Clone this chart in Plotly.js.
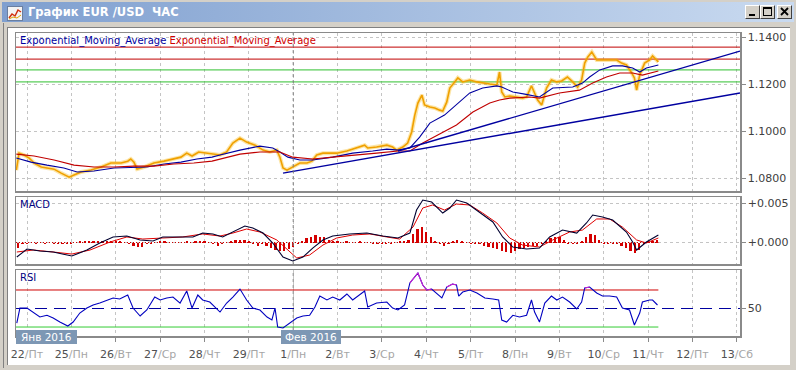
<!DOCTYPE html>
<html><head><meta charset="utf-8">
<script src="https://cdn.plot.ly/plotly-3.0.1.min.js"></script>
<style>
html,body{margin:0;padding:0;}
body{width:796px;height:370px;overflow:hidden;background:#d4d0c8;position:relative;font-family:"DejaVu Sans",sans-serif;}
#title{position:absolute;left:2px;top:2px;width:792px;height:20px;background:linear-gradient(to right,#7f9fcf,#c9daf0);}
#ttext{position:absolute;left:26px;top:3px;color:#fff;font-weight:bold;font-size:11.5px;line-height:14px;white-space:pre;font-family:"DejaVu Sans",sans-serif;}
#icon{position:absolute;left:5px;top:4px;width:16px;height:15px;}
#white{position:absolute;left:7px;top:27px;width:783px;height:338px;background:#fff;border-top:1px solid #808080;border-left:1px solid #808080;box-sizing:border-box;}
#edge{position:absolute;left:3px;top:23px;width:1px;height:345px;background:#808080;}
#chart{position:absolute;left:0;top:0;width:796px;height:370px;}
.btn{position:absolute;top:5px;width:15px;height:14px;background:#d4d0c8;box-sizing:border-box;border:1px solid;border-color:#fff #404040 #404040 #fff;}
.btn svg{position:absolute;left:0;top:0;}
</style></head>
<body>
<div id="title">
  <svg id="icon" width="16" height="15"><rect x="0.5" y="0.5" width="15" height="14" fill="#f4f4f4" stroke="#6a7fa0"/><polyline points="2,12 5,8 8,10 11,4 14,6" fill="none" stroke="#d03010" stroke-width="1.5"/><polyline points="2,13 6,11 10,12 14,9" fill="none" stroke="#e0a000" stroke-width="1"/></svg>
  <div id="ttext">График EUR /USD  ЧАС</div>
</div>
<div class="btn" style="left:745px"><svg width="13" height="12"><rect x="3" y="8" width="6" height="2" fill="#000"/></svg></div>
<div class="btn" style="left:760px"><svg width="13" height="12"><rect x="2.5" y="1.5" width="8" height="8" fill="none" stroke="#000"/><rect x="2" y="1" width="9" height="2" fill="#000"/></svg></div>
<div class="btn" style="left:777px"><svg width="13" height="12"><path d="M3,2 L10,9 M10,2 L3,9" stroke="#000" stroke-width="1.8"/></svg></div>
<div id="edge"></div>
<div id="white"></div>
<div id="chart"></div>
<script>
// ---------- data (x = trading-day index, 0 = 22 Jan 2016) ----------
const dayIdx  = [0,1,2,3,4,5,6,7,8,9,10,11,12,13,14,15,16];
const dayNum  = ['22','25','26','27','28','29','1','2','3','4','5','8','9','10','11','12','13'];
const dayName = ['Пт','Пн','Вт','Ср','Чт','Пт','Пн','Вт','Ср','Чт','Пт','Пн','Вт','Ср','Чт','Пт','Сб'];
const monthLabels = ['Янв 2016','Фев 2016'];
const monthStart = 6;

const priceX = [-0.24,-0.18,-0.07,0.05,0.16,0.32,0.45,0.61,0.77,0.86,0.95,1.06,1.22,1.44,1.67,1.89,2.12,2.27,2.34,2.41,2.48,2.64,2.86,3.09,3.31,3.47,3.60,3.72,3.87,4.03,4.17,4.35,4.50,4.64,4.80,4.95,5.14,5.32,5.47,5.63,5.70,5.77,5.86,5.99,6.15,6.31,6.42,6.53,6.67,6.82,6.98,7.21,7.43,7.61,7.68,7.88,8.11,8.24,8.33,8.47,8.58,8.67,8.74,8.81,8.90,8.96,9.08,9.19,9.30,9.37,9.46,9.53,9.64,9.71,9.82,9.98,10.14,10.27,10.43,10.59,10.65,10.70,10.77,10.88,11.04,11.17,11.26,11.37,11.44,11.51,11.60,11.71,11.82,11.94,12.05,12.18,12.30,12.41,12.50,12.57,12.64,12.73,12.84,12.97,13.13,13.29,13.40,13.51,13.63,13.69,13.74,13.81,13.92,14.03,14.10,14.19,14.23];
const price  = [1.0834,1.0906,1.0898,1.0885,1.0864,1.0847,1.0843,1.0838,1.0821,1.0813,1.0804,1.0813,1.0826,1.0834,1.0847,1.0864,1.0864,1.0872,1.0881,1.0868,1.0838,1.0847,1.0864,1.0872,1.0881,1.0889,1.0906,1.0894,1.0911,1.0906,1.0902,1.0898,1.0911,1.0949,1.0970,1.0953,1.0940,1.0919,1.0911,1.0919,1.0889,1.0843,1.0834,1.0847,1.0864,1.0864,1.0872,1.0898,1.0906,1.0906,1.0906,1.0915,1.0928,1.0940,1.0928,1.0932,1.0940,1.0932,1.0919,1.0932,1.0949,1.0996,1.1068,1.1119,1.1153,1.1111,1.1102,1.1098,1.1089,1.1085,1.1123,1.1183,1.1209,1.1226,1.1209,1.1217,1.1209,1.1204,1.1200,1.1196,1.1251,1.1166,1.1145,1.1149,1.1145,1.1140,1.1145,1.1192,1.1162,1.1132,1.1111,1.1183,1.1217,1.1209,1.1213,1.1230,1.1209,1.1187,1.1217,1.1289,1.1315,1.1336,1.1302,1.1302,1.1302,1.1302,1.1289,1.1281,1.1247,1.1226,1.1174,1.1238,1.1289,1.1302,1.1319,1.1302,1.1294];

const emaFastX = [-0.24,0.09,0.45,0.83,1.13,1.51,1.96,2.41,2.70,3.09,3.47,3.83,4.17,4.35,4.80,5.25,5.54,5.70,5.88,6.15,6.44,6.89,7.34,7.79,8.11,8.36,8.63,8.85,9.08,9.41,9.68,9.98,10.27,10.59,10.70,10.95,11.22,11.55,11.85,12.30,12.52,12.68,12.91,13.20,13.42,13.65,13.81,13.96,14.23];
const emaFast  = [1.0885,1.0868,1.0855,1.0843,1.0826,1.0830,1.0843,1.0847,1.0847,1.0860,1.0868,1.0881,1.0889,1.0898,1.0919,1.0936,1.0928,1.0911,1.0889,1.0877,1.0877,1.0889,1.0906,1.0915,1.0923,1.0919,1.0928,1.0974,1.1034,1.1068,1.1111,1.1162,1.1183,1.1192,1.1187,1.1166,1.1157,1.1145,1.1183,1.1187,1.1204,1.1230,1.1260,1.1277,1.1277,1.1268,1.1251,1.1268,1.1281];

const emaSlowX = [-0.24,0.16,0.61,1.06,1.51,1.96,2.41,2.86,3.31,3.76,4.17,4.46,4.80,5.25,5.70,5.99,6.44,6.89,7.34,7.88,8.36,8.63,8.92,9.37,9.68,10.05,10.43,10.65,10.88,11.33,11.55,12.00,12.45,12.75,13.06,13.36,13.65,13.87,14.23];
const emaSlow  = [1.0902,1.0894,1.0877,1.0855,1.0847,1.0847,1.0851,1.0851,1.0860,1.0864,1.0872,1.0885,1.0902,1.0911,1.0911,1.0889,1.0881,1.0889,1.0898,1.0906,1.0915,1.0915,1.0949,1.0996,1.1026,1.1081,1.1119,1.1132,1.1140,1.1145,1.1140,1.1162,1.1174,1.1204,1.1230,1.1247,1.1247,1.1238,1.1255];

const trend1X = [5.77,16.07], trend1 = [1.0821,1.1162];
const trend2X = [8.36,16.07], trend2 = [1.0915,1.1340];
const redLevels   = [1.1357,1.1306];
const greenLevels = [1.1260,1.1209];

const macdX = [-0.23,0.00,0.29,0.59,1.01,1.35,1.64,1.94,2.25,2.55,2.84,3.06,3.45,3.74,3.96,4.19,4.41,4.64,4.91,5.09,5.32,5.54,5.77,5.99,6.22,6.44,6.67,6.89,7.27,7.66,8.02,8.36,8.63,8.78,8.92,9.12,9.37,9.53,9.68,9.91,10.20,10.50,10.72,10.95,11.26,11.55,11.78,12.07,12.39,12.61,12.75,12.97,13.20,13.51,13.65,13.74,13.96,14.23];
const macd  = [-0.00184,-0.00082,-0.00108,-0.00120,-0.00171,-0.00095,-0.00006,0.00070,0.00082,0.00032,0.00019,0.00070,0.00070,0.00070,0.00120,0.00108,0.00070,0.00133,0.00209,0.00184,0.00120,-0.00006,-0.00184,-0.00234,-0.00184,-0.00070,0.00032,0.00082,0.00108,0.00120,0.00082,0.00057,0.00120,0.00411,0.00538,0.00513,0.00373,0.00437,0.00538,0.00500,0.00386,0.00260,0.00070,-0.00057,-0.00082,-0.00070,0.00070,0.00158,0.00120,0.00247,0.00348,0.00323,0.00285,0.00133,0.00006,-0.00095,0.00006,0.00095];
const signalX = [-0.23,0.14,0.59,1.01,1.42,1.87,2.25,2.61,3.06,3.51,3.96,4.35,4.64,4.95,5.25,5.63,6.08,6.37,6.67,6.98,7.34,7.73,8.11,8.40,8.70,8.92,9.14,9.41,9.68,9.98,10.27,10.59,10.88,11.17,11.55,11.85,12.23,12.52,12.84,13.13,13.42,13.74,13.96,14.23];
const signal  = [-0.00120,-0.00095,-0.00120,-0.00146,-0.00095,0.00006,0.00070,0.00044,0.00057,0.00070,0.00108,0.00082,0.00120,0.00171,0.00133,0.00032,-0.00196,-0.00158,-0.00032,0.00057,0.00095,0.00108,0.00070,0.00044,0.00196,0.00437,0.00475,0.00411,0.00487,0.00475,0.00373,0.00247,0.00057,-0.00032,-0.00057,0.00032,0.00133,0.00158,0.00298,0.00298,0.00196,0.00032,-0.00006,0.00057];
const histStart = -0.2, histStep = 0.1;
const hist = [-0.00064,-0.00013,-0.00013,0,-0.00013,0,-0.00013,0,-0.00013,-0.00013,
 -0.00013,-0.00013,-0.00013,0,0.00013,0.00013,0.00013,0.00025,0.00025,0.00025,
 0.00025,0.00013,0.00013,0.00013,0,-0.00013,-0.00038,-0.00051,-0.00051,-0.00025,
 -0.00013,0,0.00013,0.00013,0,0,0,0,0.00013,0,
 0.00013,0.00013,0.00013,0,-0.00025,-0.00038,-0.00025,0,0.00013,0.00038,
 0.00038,0.00038,0.00013,-0.00025,-0.00038,-0.00025,-0.00038,-0.00064,-0.00089,-0.00102,
 -0.00102,-0.00076,-0.00051,-0.00013,0.00025,0.00051,0.00076,0.00089,0.00076,0.00064,
 0.00038,0.00013,0.00013,0,0.00013,0,0,0.00013,0,0,
 -0.00013,-0.00013,-0.00013,-0.00013,-0.00013,0,0.00013,0.00013,0.00038,0.00102,
 0.00165,0.00191,0.00127,0.00064,0.00013,-0.00025,-0.00038,-0.00013,0.00025,0.00038,
 0.00013,0,-0.00013,-0.00013,-0.00025,-0.00038,-0.00051,-0.00064,-0.00076,-0.00102,
 -0.00114,-0.00127,-0.00102,-0.00076,-0.00064,-0.00051,-0.00038,-0.00038,-0.00013,0.00025,
 0.00051,0.00064,0.00064,0.00038,-0.00013,-0.00025,-0.00013,0.00025,0.00064,0.00102,
 0.00089,0.00038,-0.00013,-0.00013,-0.00013,-0.00025,-0.00038,-0.00064,-0.00102,-0.00127,
 -0.00089,-0.00025,0.00013,0.00025,0.00038];

const rsiX = [-0.23,-0.16,0.00,0.14,0.29,0.45,0.59,0.74,0.92,1.04,1.19,1.35,1.49,1.64,1.80,1.94,2.09,2.27,2.39,2.55,2.70,2.88,3.00,3.15,3.29,3.45,3.60,3.72,3.85,3.96,4.12,4.35,4.50,4.64,4.80,4.95,5.09,5.25,5.41,5.52,5.59,5.65,5.77,5.92,6.08,6.22,6.37,6.49,6.60,6.76,6.89,7.05,7.21,7.34,7.50,7.61,7.68,7.88,8.11,8.24,8.36,8.51,8.63,8.74,8.81,8.92,9.01,9.12,9.23,9.35,9.46,9.59,9.68,9.73,9.82,9.98,10.14,10.32,10.50,10.63,10.70,10.81,10.95,11.10,11.26,11.37,11.44,11.55,11.67,11.82,11.94,12.07,12.23,12.39,12.50,12.57,12.68,12.84,12.97,13.13,13.29,13.42,13.58,13.69,13.81,13.87,14.03,14.10,14.21];
const rsi  = [34.3,50.5,50.5,46.2,40.8,42.7,39.7,35.4,31.1,35.4,45.1,50.5,53.8,55.9,59.2,61.4,60.3,64.6,50.5,41.9,48.4,62.4,59.2,61.4,62.4,55.9,68.9,50.5,64.6,59.2,57.0,46.2,55.9,62.4,71.0,59.2,50.5,48.4,40.8,37.6,50.5,30.0,28.9,34.3,39.7,41.9,42.7,51.6,63.5,59.2,62.4,59.2,65.7,59.2,64.6,68.9,51.6,55.9,57.0,50.5,48.4,53.8,77.6,84.1,88.4,75.4,70.0,71.1,66.8,61.4,73.2,76.5,75.4,63.5,67.8,70.0,66.8,61.4,60.3,59.2,37.6,35.4,42.7,40.8,42.7,59.2,46.2,35.4,55.9,63.5,59.2,62.4,57.0,49.5,57.0,72.2,73.2,66.8,63.5,63.5,62.4,50.5,48.4,32.2,45.1,57.0,59.2,59.2,53.8];
const rsiLevels = {high:70, mid:50, low:30};

// ---------- layout helpers (pixel -> paper) ----------
const X = px => (px - 16) / 724;
const Y = py => (336 - py) / 303;
const xRange = [-0.248, 16.07];
const lastX = priceX[priceX.length - 1];
const F = 'DejaVu Sans, sans-serif';

const histX = hist.map((_, i) => +(histStart + i * histStep).toFixed(2));
const rsiHigh = rsi.map(v => v >= rsiLevels.high ? v : null);

const traces = [];
// price-pane horizontal levels (full width)
redLevels.forEach(v => traces.push({x: xRange, y: [v, v], xaxis:'x', yaxis:'y', type:'scatter', mode:'lines', line:{color:'#c00000', width:1}}));
greenLevels.forEach(v => traces.push({x: xRange, y: [v, v], xaxis:'x', yaxis:'y', type:'scatter', mode:'lines', line:{color:'#30c030', width:1}}));
traces.push(
  {x: priceX, y: price, xaxis:'x', yaxis:'y', type:'scatter', mode:'lines', opacity:0.35, line:{color:'#f5b400', width:4}},
  {x: priceX, y: price, xaxis:'x', yaxis:'y', type:'scatter', mode:'lines', line:{color:'#f0a000', width:1.6}},
  {x: emaFastX, y: emaFast, xaxis:'x', yaxis:'y', type:'scatter', mode:'lines', line:{color:'#0000a0', width:1.1}},
  {x: emaSlowX, y: emaSlow, xaxis:'x', yaxis:'y', type:'scatter', mode:'lines', line:{color:'#c00000', width:1.1}},
  {x: trend1X, y: trend1, xaxis:'x', yaxis:'y', type:'scatter', mode:'lines', line:{color:'#0000a0', width:1.4}},
  {x: trend2X, y: trend2, xaxis:'x', yaxis:'y', type:'scatter', mode:'lines', line:{color:'#0000a0', width:1.4}},

  {x: [xRange[0], lastX], y: [0, 0], xaxis:'x2', yaxis:'y2', type:'scatter', mode:'lines', line:{color:'#d00000', width:1, dash:'1px,2px'}},
  {x: histX, y: hist, xaxis:'x2', yaxis:'y2', type:'bar', width:0.05, marker:{color:'#d40000', line:{width:0}}},
  {x: signalX, y: signal, xaxis:'x2', yaxis:'y2', type:'scatter', mode:'lines', line:{color:'#e00000', width:1}},
  {x: macdX, y: macd, xaxis:'x2', yaxis:'y2', type:'scatter', mode:'lines', line:{color:'#000030', width:1.1}},

  {x: xRange, y: [rsiLevels.mid, rsiLevels.mid], xaxis:'x3', yaxis:'y3', type:'scatter', mode:'lines', line:{color:'#0000a0', width:1.2, dash:'12px,7px'}},
  {x: [xRange[0], lastX], y: [rsiLevels.high, rsiLevels.high], xaxis:'x3', yaxis:'y3', type:'scatter', mode:'lines', line:{color:'#d00000', width:1}},
  {x: [xRange[0], lastX], y: [rsiLevels.low, rsiLevels.low], xaxis:'x3', yaxis:'y3', type:'scatter', mode:'lines', line:{color:'#33cc33', width:1}},
  {x: rsiX, y: rsi, xaxis:'x3', yaxis:'y3', type:'scatter', mode:'lines', line:{color:'#0000c0', width:1.1}},
  {x: rsiX, y: rsiHigh, xaxis:'x3', yaxis:'y3', type:'scatter', mode:'lines', connectgaps:false, line:{color:'#d020d0', width:1.1}}
);

const gridCommon = {showgrid:true, gridcolor:'#c4c4c4', griddash:'3px,3px', gridwidth:1,
  showline:true, mirror:true, linecolor:'#8a8a8a', linewidth:1.5, zeroline:false, fixedrange:true};
const xCommon = Object.assign({}, gridCommon, {range:xRange, tickmode:'array', tickvals:dayIdx});
const ticktext = dayNum.map((n, i) => n + '<span style="color:#a6a6a6">/' + dayName[i] + '</span>');
const yCommon = Object.assign({}, gridCommon, {side:'right', ticks:'outside', ticklen:4, tickcolor:'#8a8a8a',
  tickfont:{family:F, size:11, color:'#404040'}});

// month boundary (darker dashed line) in each pane, and month tag boxes
const paneBounds = [[191, 33], [264, 197], [336, 270]];
const shapes = [];
paneBounds.forEach((b, i) => shapes.push({type:'line', xref:['x','x2','x3'][i], yref:'paper', x0:monthStart, x1:monthStart,
  y0:Y(b[0]), y1:Y(b[1]), line:{color:'#808080', width:1, dash:'3px,3px'}}));
shapes.push({type:'rect', xref:'paper', yref:'paper', x0:X(16), x1:X(77), y0:Y(344), y1:Y(330), fillcolor:'#7d97b4', line:{width:0}});
shapes.push({type:'rect', xref:'paper', yref:'paper', x0:X(281), x1:X(341), y0:Y(344), y1:Y(330), fillcolor:'#7d97b4', line:{width:0}});

const annotations = [
  {xref:'paper', yref:'paper', x:X(18), y:Y(41), xanchor:'left', yanchor:'middle', showarrow:false,
   text:'<span style="color:#0000a0">Exponential_Moving_Average</span> <span style="color:#d00000">Exponential_Moving_Average</span>',
   font:{family:F, size:10}},
  {xref:'paper', yref:'paper', x:X(18), y:Y(204), xanchor:'left', yanchor:'middle', showarrow:false, text:'MACD', font:{family:F, size:10, color:'#000080'}},
  {xref:'paper', yref:'paper', x:X(18), y:Y(277), xanchor:'left', yanchor:'middle', showarrow:false, text:'RSI', font:{family:F, size:10, color:'#000080'}},
  {xref:'paper', yref:'paper', x:X(46.5), y:Y(337), xanchor:'center', yanchor:'middle', showarrow:false, text:monthLabels[0], font:{family:F, size:10.5, color:'#ffffff'}},
  {xref:'paper', yref:'paper', x:X(311), y:Y(337), xanchor:'center', yanchor:'middle', showarrow:false, text:monthLabels[1], font:{family:F, size:10.5, color:'#ffffff'}}
];

const layout = {
  width:796, height:370, margin:{l:16, r:56, t:33, b:34, pad:0},
  paper_bgcolor:'rgba(0,0,0,0)', plot_bgcolor:'#ffffff', showlegend:false, bargap:0,
  xaxis:  Object.assign({}, xCommon, {anchor:'y', showticklabels:false, ticks:''}),
  xaxis2: Object.assign({}, xCommon, {anchor:'y2', matches:'x', showticklabels:false, ticks:''}),
  xaxis3: Object.assign({}, xCommon, {anchor:'y3', matches:'x', ticktext:ticktext, ticks:'outside', ticklen:4, tickcolor:'#8a8a8a',
           tickfont:{family:F, size:11, color:'#505050'}, ticklabelstandoff:3}),
  yaxis:  Object.assign({}, yCommon, {anchor:'x', domain:[0.4785, 1], range:[1.0745, 1.1417], tickmode:'array',
           tickvals:[1.08, 1.10, 1.12, 1.14], ticktext:['1.0800','1.1000','1.1200','1.1400']}),
  yaxis2: Object.assign({}, yCommon, {anchor:'x2', domain:[0.2376, 0.4587], range:[-0.00272, 0.00576], tickmode:'array',
           tickvals:[0, 0.005], ticktext:['+0.000','+0.005']}),
  yaxis3: Object.assign({}, yCommon, {anchor:'x3', domain:[0, 0.2178], range:[20.3, 91.6], tickmode:'array',
           tickvals:[50], ticktext:['50'], showgrid:false}),
  shapes:shapes, annotations:annotations
};

Plotly.newPlot('chart', traces, layout, {staticPlot:true, displayModeBar:false});
</script>
</body></html>
